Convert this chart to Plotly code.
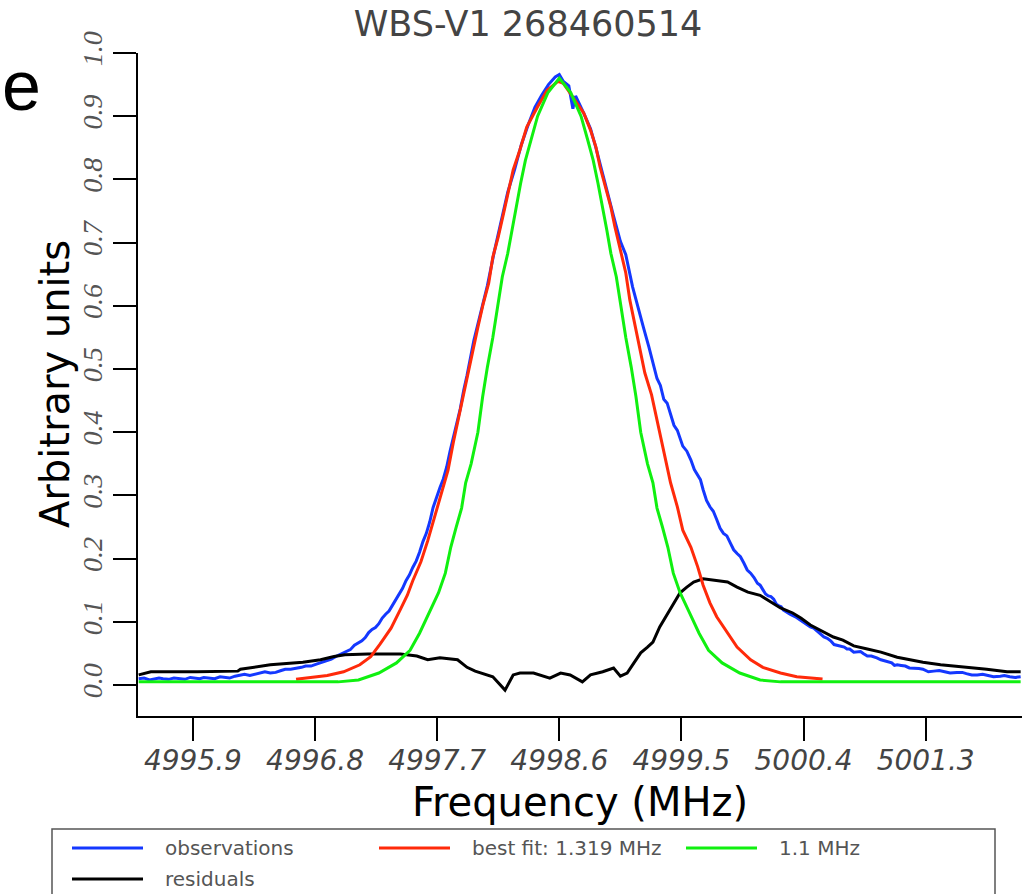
import plotly.graph_objects as go

# ---------------- data ----------------
obs_freq = [4995.50, 4995.54, 4995.58, 4995.61, 4995.65, 4995.68, 4995.72, 4995.76, 4995.80, 4995.84,
            4995.88, 4995.91, 4995.95, 4995.98, 4996.02, 4996.06, 4996.10, 4996.13, 4996.17, 4996.21,
            4996.25, 4996.28, 4996.32, 4996.36, 4996.40, 4996.43, 4996.47, 4996.51, 4996.55, 4996.58,
            4996.62, 4996.66, 4996.70, 4996.73, 4996.77, 4996.81, 4996.85, 4996.88, 4996.92, 4996.96,
            4997.00, 4997.03, 4997.06, 4997.09, 4997.12, 4997.145, 4997.17, 4997.195, 4997.22, 4997.245,
            4997.27, 4997.295, 4997.32, 4997.345, 4997.37, 4997.395, 4997.42, 4997.445, 4997.47, 4997.495,
            4997.52, 4997.545, 4997.57, 4997.595, 4997.62, 4997.645, 4997.67, 4997.695, 4997.72, 4997.745,
            4997.77, 4997.795, 4997.82, 4997.845, 4997.87, 4997.895, 4997.92, 4997.97, 4998.02, 4998.07,
            4998.12, 4998.17, 4998.22, 4998.27, 4998.32, 4998.37, 4998.42, 4998.47, 4998.52, 4998.57,
            4998.60, 4998.63, 4998.67, 4998.70, 4998.72, 4998.78, 4998.83, 4998.87, 4998.90, 4998.95,
            4999.00, 4999.05, 4999.09, 4999.14, 4999.18, 4999.22, 4999.26, 4999.29, 4999.32, 4999.345,
            4999.37, 4999.395, 4999.42, 4999.445, 4999.47, 4999.49, 4999.51, 4999.54, 4999.57, 4999.595,
            4999.62, 4999.64, 4999.66, 4999.685, 4999.71, 4999.735, 4999.76, 4999.785, 4999.81, 4999.835,
            4999.86, 4999.885, 4999.91, 4999.935, 4999.96, 4999.985, 5000.01, 5000.035, 5000.06, 5000.08,
            5000.10, 5000.12, 5000.14, 5000.16, 5000.18, 5000.20, 5000.22, 5000.235, 5000.25, 5000.27,
            5000.30, 5000.34, 5000.38, 5000.415, 5000.45, 5000.475, 5000.50, 5000.525, 5000.55, 5000.575,
            5000.60, 5000.625, 5000.65, 5000.675, 5000.70, 5000.72, 5000.74, 5000.77, 5000.80, 5000.82,
            5000.84, 5000.87, 5000.90, 5000.92, 5000.94, 5000.97, 5001.00, 5001.03, 5001.05, 5001.07,
            5001.09, 5001.12, 5001.15, 5001.18, 5001.21, 5001.25, 5001.28, 5001.32, 5001.36, 5001.40,
            5001.44, 5001.48, 5001.53, 5001.57, 5001.60, 5001.64, 5001.68, 5001.72, 5001.76, 5001.80,
            5001.85, 5001.88, 5001.92, 5001.96, 5002.00]
obs_vals = [0.010, 0.011, 0.008, 0.009, 0.011, 0.010, 0.009, 0.011, 0.010, 0.009,
            0.012, 0.011, 0.010, 0.012, 0.011, 0.010, 0.013, 0.012, 0.011, 0.014,
            0.016, 0.017, 0.015, 0.017, 0.020, 0.021, 0.019, 0.020, 0.023, 0.025,
            0.025, 0.026, 0.028, 0.030, 0.030, 0.033, 0.036, 0.037, 0.041, 0.046,
            0.050, 0.052, 0.056, 0.063, 0.067, 0.070, 0.075, 0.083, 0.088, 0.091,
            0.097, 0.106, 0.112, 0.117, 0.126, 0.135, 0.143, 0.153, 0.165, 0.174,
            0.186, 0.196, 0.210, 0.227, 0.240, 0.258, 0.281, 0.298, 0.312, 0.326,
            0.345, 0.370, 0.392, 0.413, 0.437, 0.466, 0.490, 0.545, 0.590, 0.632,
            0.685, 0.730, 0.780, 0.815, 0.855, 0.886, 0.914, 0.933, 0.950, 0.962,
            0.966, 0.955, 0.948, 0.912, 0.932, 0.905, 0.880, 0.850, 0.824, 0.785,
            0.742, 0.702, 0.681, 0.630, 0.600, 0.566, 0.535, 0.512, 0.485, 0.474,
            0.452, 0.446, 0.430, 0.411, 0.403, 0.392, 0.378, 0.370, 0.356, 0.341,
            0.333, 0.325, 0.309, 0.292, 0.282, 0.275, 0.262, 0.248, 0.240, 0.236,
            0.225, 0.214, 0.208, 0.203, 0.193, 0.182, 0.177, 0.170, 0.161, 0.158,
            0.151, 0.144, 0.141, 0.140, 0.136, 0.128, 0.125, 0.124, 0.119, 0.116,
            0.112, 0.108, 0.102, 0.096, 0.092, 0.090, 0.085, 0.080, 0.076, 0.074,
            0.070, 0.064, 0.063, 0.062, 0.060, 0.057, 0.057, 0.052, 0.053, 0.053,
            0.050, 0.046, 0.046, 0.045, 0.043, 0.040, 0.038, 0.037, 0.035, 0.031,
            0.032, 0.031, 0.030, 0.027, 0.027, 0.026, 0.025, 0.021, 0.022, 0.023,
            0.021, 0.019, 0.020, 0.020, 0.018, 0.016, 0.016, 0.017, 0.015, 0.013,
            0.014, 0.015, 0.013, 0.012, 0.013]

fit_freq = [4996.66, 4996.69, 4996.89, 4997.01, 4997.13, 4997.21, 4997.28, 4997.36, 4997.43, 4997.48,
            4997.52, 4997.58, 4997.63, 4997.67, 4997.72, 4997.78, 4997.82, 4997.87, 4997.90, 4997.93,
            4997.97, 4998.00, 4998.04, 4998.08, 4998.11, 4998.15, 4998.19, 4998.22, 4998.26, 4998.31,
            4998.36, 4998.44, 4998.51, 4998.59, 4998.63, 4998.70, 4998.78, 4998.83, 4998.87, 4998.90,
            4998.94, 4998.98, 4999.01, 4999.05, 4999.09, 4999.12, 4999.16, 4999.20, 4999.23, 4999.28,
            4999.32, 4999.37, 4999.42, 4999.47, 4999.51, 4999.57, 4999.62, 4999.66, 4999.71, 4999.76,
            4999.84, 4999.91, 5000.01, 5000.10, 5000.23, 5000.35, 5000.54]
fit_vals = [0.009, 0.010, 0.015, 0.021, 0.032, 0.045, 0.065, 0.090, 0.120, 0.142,
            0.165, 0.195, 0.228, 0.258, 0.295, 0.340, 0.385, 0.435, 0.465, 0.500,
            0.535, 0.566, 0.604, 0.636, 0.677, 0.709, 0.747, 0.778, 0.815, 0.847,
            0.883, 0.915, 0.941, 0.955, 0.952, 0.930, 0.905, 0.878, 0.851, 0.820,
            0.788, 0.756, 0.725, 0.688, 0.652, 0.609, 0.566, 0.525, 0.494, 0.459,
            0.420, 0.367, 0.320, 0.282, 0.245, 0.218, 0.187, 0.158, 0.130, 0.108,
            0.082, 0.060, 0.040, 0.028, 0.019, 0.013, 0.0095]

ref_freq = [4995.50, 4996.97, 4997.12, 4997.27, 4997.40, 4997.50, 4997.57, 4997.64, 4997.71, 4997.76,
            4997.80, 4997.84, 4997.88, 4997.91, 4997.95, 4998.00, 4998.035, 4998.07, 4998.11, 4998.145,
            4998.18, 4998.22, 4998.25, 4998.28, 4998.315, 4998.35, 4998.39, 4998.44, 4998.515, 4998.60,
            4998.685, 4998.76, 4998.81, 4998.85, 4998.885, 4998.92, 4998.95, 4998.98, 4999.02, 4999.055,
            4999.09, 4999.13, 4999.165, 4999.20, 4999.25, 4999.29, 4999.32, 4999.36, 4999.40, 4999.44,
            4999.49, 4999.56, 4999.63, 4999.70, 4999.80, 4999.93, 5000.08, 5000.23, 5002.00]
ref_vals = [0.005, 0.005, 0.008, 0.019, 0.035, 0.055, 0.082, 0.114, 0.146, 0.177,
            0.218, 0.250, 0.280, 0.320, 0.350, 0.400, 0.456, 0.503, 0.550, 0.598,
            0.646, 0.683, 0.720, 0.756, 0.794, 0.830, 0.862, 0.900, 0.937, 0.960,
            0.937, 0.900, 0.862, 0.830, 0.794, 0.756, 0.720, 0.683, 0.646, 0.598,
            0.550, 0.503, 0.456, 0.400, 0.350, 0.320, 0.280, 0.250, 0.218, 0.177,
            0.146, 0.114, 0.082, 0.055, 0.035, 0.019, 0.008, 0.005, 0.005]

res_freq = [4995.50, 4995.59, 4995.93, 4996.23, 4996.25, 4996.47, 4996.71, 4996.84, 4996.94, 4997.02,
            4997.19, 4997.43, 4997.55, 4997.63, 4997.72, 4997.85, 4997.92, 4997.98, 4998.11, 4998.20,
            4998.26, 4998.31, 4998.41, 4998.53, 4998.61, 4998.68, 4998.77, 4998.83, 4998.92, 4999.00,
            4999.05, 4999.10, 4999.15, 4999.20, 4999.25, 4999.29, 4999.34, 4999.40, 4999.44, 4999.49,
            4999.54, 4999.59, 4999.66, 4999.74, 4999.84, 4999.91, 4999.99, 5000.08, 5000.16, 5000.23,
            5000.32, 5000.38, 5000.45, 5000.55, 5000.62, 5000.69, 5000.77, 5000.87, 5000.97, 5001.09,
            5001.16, 5001.28, 5001.41, 5001.61, 5001.75, 5001.90, 5002.00]
res_vals = [0.016, 0.021, 0.021, 0.022, 0.025, 0.032, 0.036, 0.040, 0.045, 0.048,
            0.049, 0.049, 0.046, 0.040, 0.043, 0.040, 0.028, 0.022, 0.013, -0.008,
            0.016, 0.019, 0.019, 0.011, 0.019, 0.016, 0.005, 0.016, 0.021, 0.027,
            0.014, 0.019, 0.035, 0.051, 0.060, 0.068, 0.092, 0.114, 0.130, 0.146,
            0.155, 0.163, 0.168, 0.166, 0.163, 0.155, 0.147, 0.142, 0.131, 0.122,
            0.114, 0.106, 0.095, 0.084, 0.076, 0.071, 0.062, 0.057, 0.052, 0.044,
            0.041, 0.036, 0.032, 0.028, 0.025, 0.021, 0.021]

x_ticks = [4995.9, 4996.8, 4997.7, 4998.6, 4999.5, 5000.4, 5001.3]
x_ticktext = ["4995.9", "4996.8", "4997.7", "4998.6", "4999.5", "5000.4", "5001.3"]
y_ticks = [0.0, 0.1, 0.2, 0.3, 0.4, 0.5, 0.6, 0.7, 0.8, 0.9, 1.0]

legend_labels = ["observations", "best fit: 1.319 MHz", "1.1 MHz", "residuals"]
colors = ["#1438ff", "#ff2a0a", "#10f010", "#000000"]

# ---------------- figure ----------------
W, H = 1034, 894
L, R, T, B = 138, 12, 53, 178
pw, ph = W - L - R, H - T - B


def xp(px):
    return (px - L) / pw


def yp(py):
    return (H - B - py) / ph


fig = go.Figure()
fig.add_trace(go.Scatter(x=obs_freq, y=obs_vals, mode="lines", name=legend_labels[0],
                         line=dict(color=colors[0], width=3), showlegend=False))
fig.add_trace(go.Scatter(x=res_freq, y=res_vals, mode="lines", name=legend_labels[3],
                         line=dict(color=colors[3], width=3), showlegend=False))
fig.add_trace(go.Scatter(x=fit_freq, y=fit_vals, mode="lines", name=legend_labels[1],
                         line=dict(color=colors[1], width=3), showlegend=False))
fig.add_trace(go.Scatter(x=ref_freq, y=ref_vals, mode="lines", name=legend_labels[2],
                         line=dict(color=colors[2], width=3), showlegend=False))

fig.update_layout(
    width=W, height=H,
    margin=dict(l=L, r=R, t=T, b=B),
    paper_bgcolor="white", plot_bgcolor="white",
    title=dict(text="WBS-V1 268460514", x=528 / W, xref="container", xanchor="center",
               y=1 - 24 / H, yref="container", yanchor="middle",
               font=dict(family="DejaVu Sans", size=35, color="#444444")),
    xaxis=dict(range=[4995.495, 5002.01], tickvals=x_ticks, ticktext=x_ticktext,
               ticks="outside", ticklen=23, tickwidth=2, tickcolor="black", ticklabelstandoff=-5,
               showline=True, linewidth=2, linecolor="black", showgrid=False, zeroline=False,
               tickfont=dict(family="DejaVu Sans", size=28, color="#444444", style="italic"),
               title=dict(text="Frequency (MHz)", standoff=12,
                          font=dict(family="DejaVu Sans", size=40, color="black"))),
    yaxis=dict(range=[-0.049, 1.0], tickvals=y_ticks, tickformat=".1f", tickangle=-90,
               ticks="outside", ticklen=23, tickwidth=2, tickcolor="black",
               showline=True, linewidth=2, linecolor="black", showgrid=False, zeroline=False,
               tickfont=dict(family="Liberation Serif", size=28, color="#555555", style="italic")),
)

# y axis title
fig.add_annotation(text="Arbitrary units", xref="paper", yref="paper", x=xp(55), y=yp(384),
                   xanchor="center", yanchor="middle", textangle=-90, showarrow=False,
                   font=dict(family="DejaVu Sans", size=40, color="black"))

# panel letter
fig.add_annotation(text="e", xref="paper", yref="paper", x=xp(0), y=yp(86),
                   xanchor="left", yanchor="middle", showarrow=False,
                   font=dict(family="Liberation Sans", size=70, color="black"))

# legend box (drawn manually to match the reference layout)
fig.add_shape(type="rect", xref="paper", yref="paper", x0=xp(52), x1=xp(995), y0=yp(905), y1=yp(829),
              line=dict(color="#555555", width=1.5), fillcolor="rgba(0,0,0,0)")
legend_pos = [(72, 848), (379, 848), (686, 848), (72, 879)]
legend_colors = [colors[0], colors[1], colors[2], colors[3]]
for (lx, ly), lab, col in zip(legend_pos, legend_labels, legend_colors):
    fig.add_shape(type="line", xref="paper", yref="paper", x0=xp(lx), x1=xp(lx + 71),
                  y0=yp(ly), y1=yp(ly), line=dict(color=col, width=3))
    fig.add_annotation(text=lab, xref="paper", yref="paper", x=xp(lx + 91), y=yp(ly),
                       xanchor="left", yanchor="middle", showarrow=False,
                       font=dict(family="DejaVu Sans", size=20, color="#555555"))

fig.write_html("out.html", config={"displayModeBar": False},
               post_script="document.body.style.margin='0px';")
